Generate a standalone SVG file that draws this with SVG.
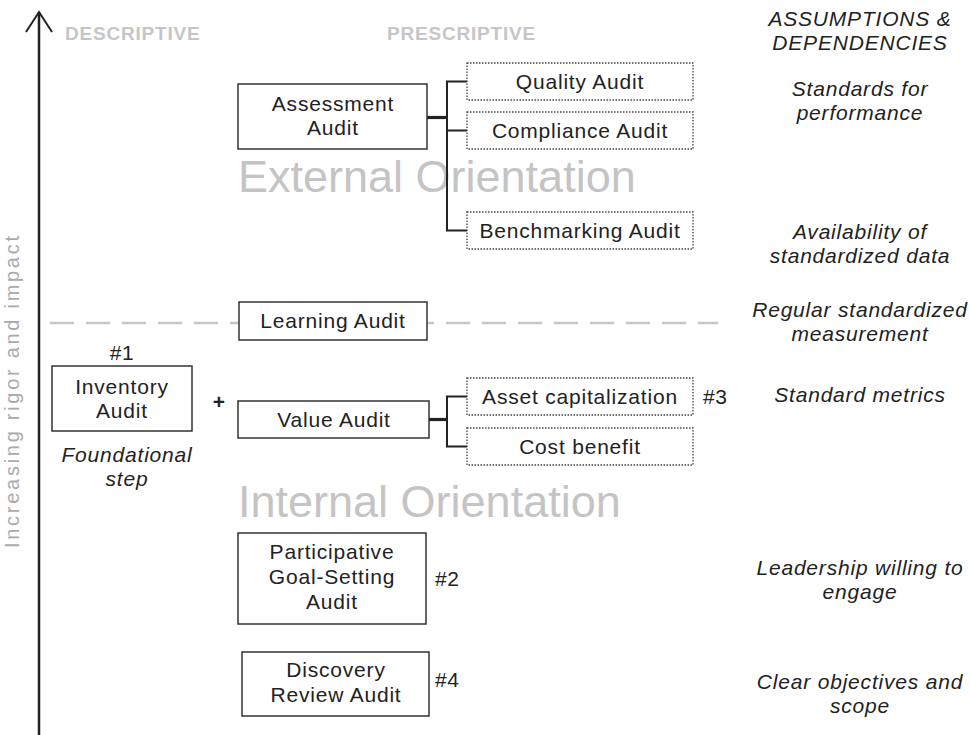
<svg xmlns="http://www.w3.org/2000/svg" width="970" height="735" viewBox="0 0 970 735">
<style>
  text { font-family: "Liberation Sans", Arial, sans-serif; }
  .lbl { font-size: 21px; letter-spacing: 0.8px; fill: #222; text-anchor: middle; }
  .num { font-size: 21px; letter-spacing: 0.5px; fill: #222; }
  .it { font-size: 21px; letter-spacing: 0.8px; fill: #222; text-anchor: middle; font-style: italic; }
  .hdr { font-size: 19px; letter-spacing: 0.8px; font-weight: bold; fill: #c6c6c6; }
  .big { font-size: 45px; fill: #c4c4c4; }
  .box { fill: #fff; stroke: #333; stroke-width: 1.5; }
  .dbox { fill: #fff; stroke: #444; stroke-width: 1.3; stroke-dasharray: 1.5 1.5; }
  .conn { fill: none; stroke: #222; stroke-width: 2; }
  .stub { fill: none; stroke: #222; stroke-width: 3.2; }
</style>

<!-- background labels -->
<g id="headers">
  <text class="hdr" x="65" y="40">DESCRIPTIVE</text>
  <text class="hdr" x="387" y="40">PRESCRIPTIVE</text>
  <text class="it" x="860" y="26">ASSUMPTIONS &amp;</text>
  <text class="it" x="860" y="50">DEPENDENCIES</text>
</g>
<g id="orientations">
  <text class="big" x="238" y="192">External Orientation</text>
  <text class="big" x="238" y="517">Internal Orientation</text>
</g>

<!-- axis -->
<g id="axis">
  <line x1="39" y1="12" x2="39" y2="735" stroke="#222" stroke-width="2.5"/>
  <path d="M26,32 L39,12 L52,32" fill="none" stroke="#222" stroke-width="2"/>
  <text transform="translate(19,392) rotate(-90)" font-size="20" fill="#aaaaaa" text-anchor="middle" textLength="312" lengthAdjust="spacing">Increasing rigor and impact</text>
</g>

<line id="divider" x1="50" y1="323" x2="718" y2="323" stroke="#c8c8c8" stroke-width="2.5" stroke-dasharray="24 12"/>

<!-- connectors -->
<g id="connectors">
  <path class="stub" d="M427,117.5 H447"/>
  <path class="conn" d="M467,81.5 H447 V230.5 H467 M447,130.5 H467"/>
  <path class="stub" d="M429,419.5 H447"/>
  <path class="conn" d="M467,396.5 H447 V446.5 H467"/>
</g>

<!-- nodes -->
<g id="assessment">
  <rect class="box" x="238" y="84" width="189" height="65"/>
  <text class="lbl" x="333" y="111">Assessment</text>
  <text class="lbl" x="333" y="135">Audit</text>
</g>
<g id="quality">
  <rect class="dbox" x="467" y="63" width="226" height="37"/>
  <text class="lbl" x="580" y="89">Quality Audit</text>
</g>
<g id="compliance">
  <rect class="dbox" x="467" y="112" width="226" height="37"/>
  <text class="lbl" x="580" y="138">Compliance Audit</text>
</g>
<g id="benchmarking">
  <rect class="dbox" x="467" y="212" width="226" height="37"/>
  <text class="lbl" x="580" y="238">Benchmarking Audit</text>
</g>
<g id="learning">
  <rect class="box" x="239" y="302" width="188" height="38"/>
  <text class="lbl" x="333" y="328">Learning Audit</text>
</g>
<g id="inventory">
  <text class="num" x="122" y="360" text-anchor="middle">#1</text>
  <rect class="box" x="52" y="366" width="140" height="65"/>
  <text class="lbl" x="122" y="394">Inventory</text>
  <text class="lbl" x="122" y="418">Audit</text>
  <text class="it" x="127" y="462">Foundational</text>
  <text class="it" x="127" y="486">step</text>
</g>
<g id="plus">
  <text x="219" y="409" font-size="21" font-weight="bold" fill="#222" text-anchor="middle">+</text>
</g>
<g id="value">
  <rect class="box" x="238" y="401" width="191" height="37"/>
  <text class="lbl" x="334" y="427">Value Audit</text>
</g>
<g id="asset">
  <rect class="dbox" x="467" y="378" width="226" height="37"/>
  <text class="lbl" x="580" y="404">Asset capitalization</text>
  <text class="num" x="703" y="404">#3</text>
</g>
<g id="cost">
  <rect class="dbox" x="467" y="428" width="226" height="37"/>
  <text class="lbl" x="580" y="454">Cost benefit</text>
</g>
<g id="participative">
  <rect class="box" x="238" y="533" width="188" height="91"/>
  <text class="lbl" x="332" y="559">Participative</text>
  <text class="lbl" x="332" y="584">Goal-Setting</text>
  <text class="lbl" x="332" y="609">Audit</text>
  <text class="num" x="435" y="586">#2</text>
</g>
<g id="discovery">
  <rect class="box" x="242" y="652" width="187" height="64"/>
  <text class="lbl" x="336" y="677">Discovery</text>
  <text class="lbl" x="336" y="702">Review Audit</text>
  <text class="num" x="435" y="687">#4</text>
</g>

<!-- assumptions column -->
<g id="assumptions">
  <text class="it" x="860" y="96">Standards for</text>
  <text class="it" x="860" y="120">performance</text>
  <text class="it" x="860" y="239">Availability of</text>
  <text class="it" x="860" y="263">standardized data</text>
  <text class="it" x="860" y="317">Regular standardized</text>
  <text class="it" x="860" y="341">measurement</text>
  <text class="it" x="860" y="402">Standard metrics</text>
  <text class="it" x="860" y="575">Leadership willing to</text>
  <text class="it" x="860" y="599">engage</text>
  <text class="it" x="860" y="689">Clear objectives and</text>
  <text class="it" x="860" y="713">scope</text>
</g>
</svg>
